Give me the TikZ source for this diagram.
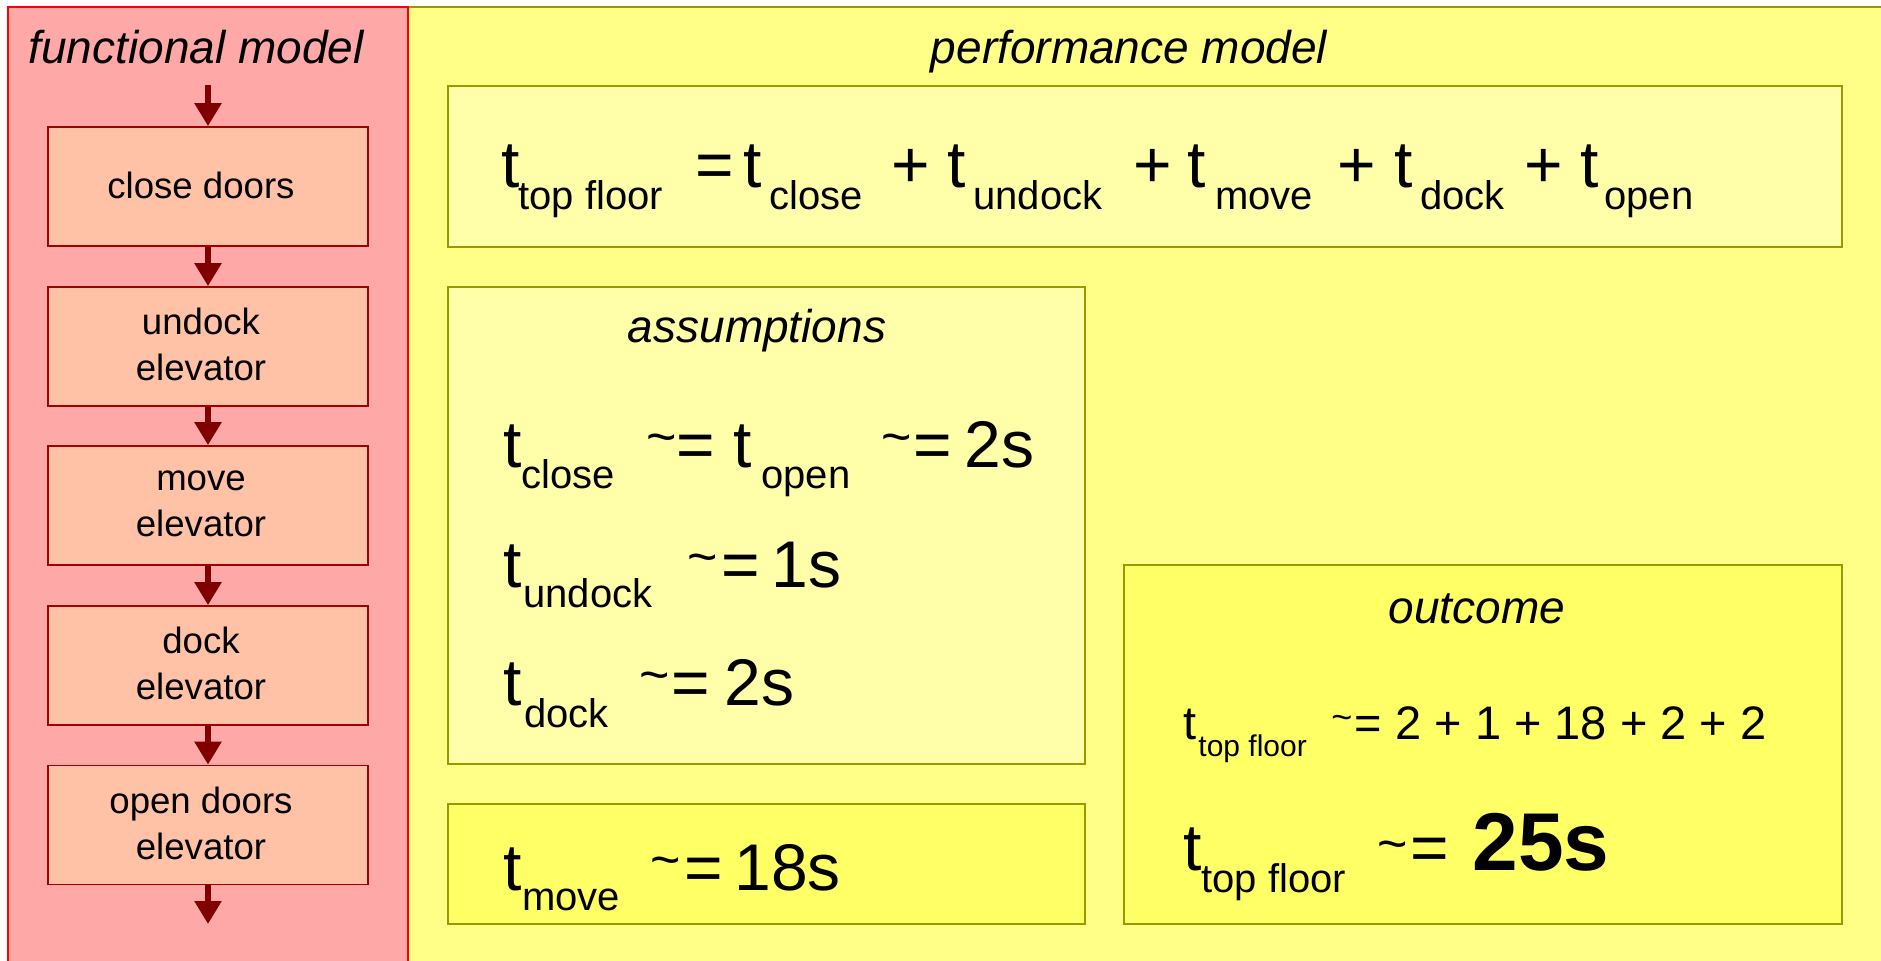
\documentclass[tikz,border=0pt]{standalone}
\usepackage{fontspec}
\setmainfont{Liberation Sans}
\usetikzlibrary{arrows.meta}
\newlength\pxu \setlength\pxu{0.5pt}
\newcommand\pc[2]{\makebox[0pt][l]{\hspace*{#1\pxu}#2}}
\newcommand\fM{\fontsize{33}{40}\selectfont}
\newcommand\fS{\fontsize{20}{24}\selectfont}
\newcommand\sbd[2]{\raisebox{-#1pt}{\fS #2}}
\newcommand\tilt[2]{\raisebox{#2pt}{\fontsize{#1}{#1}\selectfont\textasciitilde}}
\definecolor{redpanel}{HTML}{FFA8A8}
\definecolor{redline}{HTML}{FF0000}
\definecolor{boxfill}{HTML}{FFC2A6}
\definecolor{boxline}{HTML}{A00000}
\definecolor{arrowc}{HTML}{800000}
\definecolor{yelpanel}{HTML}{FFFF88}
\definecolor{yelline}{HTML}{999900}
\definecolor{lightbox}{HTML}{FFFFAA}
\definecolor{strongbox}{HTML}{FFFF66}
\begin{document}
\begin{tikzpicture}[x=0.5pt,y=-0.5pt,
  fbox/.style={draw=boxline,line width=0.9pt,fill=boxfill,minimum width=160pt,minimum height=59.5pt,inner sep=0pt},
  ftxt/.style={inner sep=0pt,align=center,font=\fontsize{18.3}{23}\selectfont},
  flow/.style={draw=arrowc,line width=2.8pt,-{Triangle[width=13pt,length=11.5pt]}},
  pbox/.style={draw=yelline,line width=0.9pt,inner sep=0pt},
  ttl/.style={anchor=base,inner sep=0pt,font=\fontsize{23}{28}\selectfont\itshape},
  fml/.style={anchor=base west,inner sep=0pt,font=\fM}]
\useasboundingbox (0,0) rectangle (1881,960);
% panels
\path[fill=yelpanel,draw=yelline,line width=0.9pt] (408,7) rectangle (1895,975);
\path[fill=redpanel,draw=redline,line width=0.9pt] (8,7) rectangle (408,975);
% titles
\node[ttl] (fmt) at (196,63) {functional model};
\node[ttl] (pmt) at (1129,63) {performance model};
% functional chain
\node[fbox] (b1) at (208,186.5) {};
\node[fbox] (b2) at (208,346.5) {};
\node[fbox] (b3) at (208,505.5) {};
\node[fbox] (b4) at (208,665.5) {};
\node[fbox] (b5) at (208,825) {};
\node[ftxt] (l1) at (201,185) {close doors};
\node[ftxt] (l2) at (201,344.5) {undock\\elevator};
\node[ftxt] (l3) at (201,503.5) {move\\elevator};
\node[ftxt] (l4) at (201,663.5) {dock\\elevator};
\node[ftxt] (l5) at (201,823) {open doors\\elevator};
\coordinate (cin) at (208,85);
\coordinate (cout) at (208,924);
\draw[flow] (cin) -- (b1.north);
\draw[flow] (b1.south) -- (b2.north);
\draw[flow] (b2.south) -- (b3.north);
\draw[flow] (b3.south) -- (b4.north);
\draw[flow] (b4.south) -- (b5.north);
\draw[flow] (b5.south) -- (cout);
% performance boxes
\node[pbox,fill=lightbox,minimum width=697pt,minimum height=80.5pt] (topbox) at (1145,166.5) {};
\node[pbox,fill=lightbox,minimum width=318.5pt,minimum height=238.5pt] (assbox) at (766.5,525.5) {};
\node[pbox,fill=strongbox,minimum width=318.5pt,minimum height=60pt] (movebox) at (766.5,864) {};
\node[pbox,fill=strongbox,minimum width=359pt,minimum height=179.5pt] (outbox) at (1483,744.5) {};
% top formula
\node[fml] (topf) at (500,187) {\pc{0}{t}\pc{17}{\sbd{11}{top floor}}\pc{194}{=}\pc{242}{t}\pc{268}{\sbd{11}{close}}\pc{390}{+}\pc{446}{t}\pc{472}{\sbd{11}{undock}}\pc{632}{+}\pc{686}{t}\pc{714}{\sbd{11}{move}}\pc{836}{+}\pc{893}{t}\pc{919}{\sbd{11}{dock}}\pc{1023}{+}\pc{1079}{t}\pc{1103}{\sbd{11}{open}}};
% assumptions
\node[ttl] (asst) at (757,342) {assumptions};
\node[fml] (a1) at (502,467) {\pc{0}{t}\pc{18}{\sbd{10.5}{close}}\pc{143.5}{\tilt{26}{6.5}}\pc{173}{=}\pc{230}{t}\pc{258}{\sbd{10.5}{open}}\pc{378}{\tilt{26}{6.5}}\pc{410}{=}\pc{461}{2s}};
\node[fml] (a2) at (502,587) {\pc{0}{t}\pc{20}{\sbd{10}{undock}}\pc{184}{\tilt{26}{6.5}}\pc{218}{=}\pc{268}{1s}};
\node[fml] (a3) at (502,705) {\pc{0}{t}\pc{21}{\sbd{11}{dock}}\pc{136}{\tilt{26}{6.5}}\pc{168}{=}\pc{221}{2s}};
% move
\node[fml] (m1) at (502,890) {\pc{0}{t}\pc{19}{\sbd{10}{move}}\pc{147}{\tilt{26}{6.5}}\pc{181}{=}\pc{231}{18s}};
% outcome
\node[ttl] (outt) at (1477,623) {outcome};
\node[fml,font=\fontsize{23.5}{28}\selectfont] (o1) at (1182,739) {\pc{0}{t}\pc{15}{\raisebox{-8.5pt}{\fontsize{15}{18}\selectfont top floor}}\pc{148}{\tilt{18}{5}}\pc{171}{=}\pc{212}{2 + 1 + 18 + 2 + 2}};
\node[fml] (o2) at (1182,870) {\pc{0}{t}\pc{18}{\sbd{11}{top floor}}\pc{194}{\tilt{26}{4.5}}\pc{227}{=}\pc{289}{\fontsize{41}{48}\selectfont\bfseries 25s}};
\end{tikzpicture}
\end{document}
